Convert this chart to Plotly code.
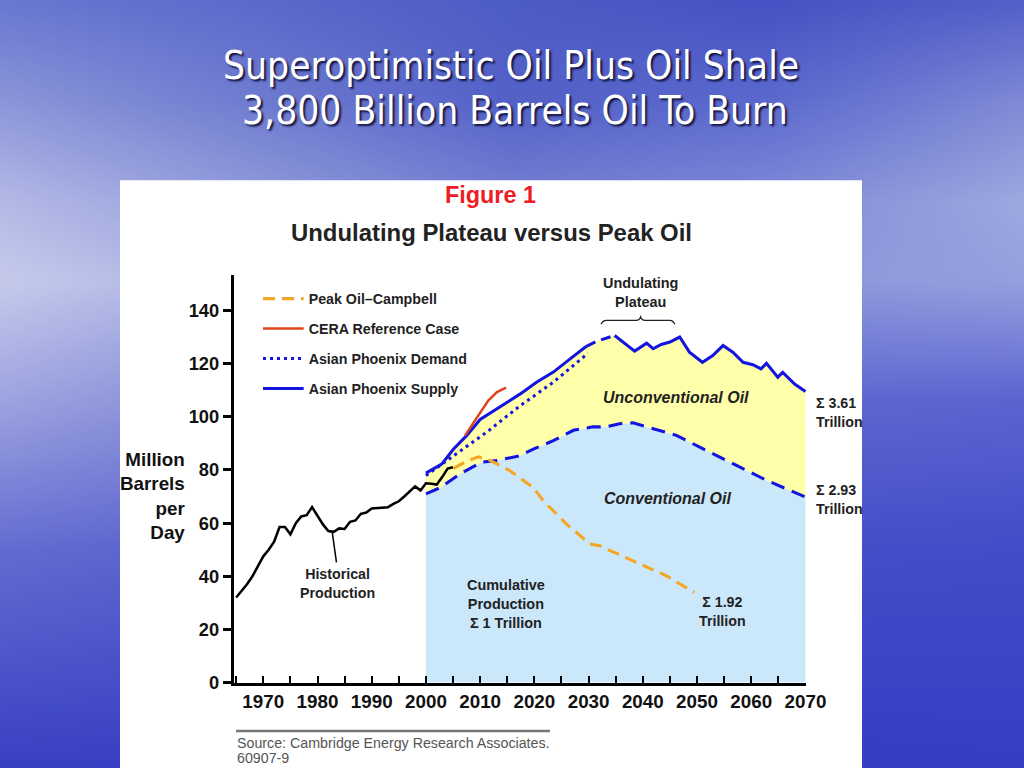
import base64
import struct
import zlib

import numpy as np
import plotly.graph_objects as go

# ---------------- data ----------------
hist_years = list(range(1965, 2006))
hist_vals = [32.0, 34.5, 37.0, 40.0, 43.5, 47.5, 50.0, 53.0, 58.5, 58.5,
             55.8, 60.0, 62.5, 63.0, 66.0, 62.8, 59.5, 57.0, 56.7, 58.0,
             57.8, 60.5, 61.0, 63.5, 64.0, 65.5, 65.6, 65.8, 66.0, 67.2,
             68.2, 70.0, 72.0, 73.8, 72.3, 75.0, 74.8, 74.5, 77.3, 80.5, 81.0]

supply_years = [2000, 2002.9, 2005.1, 2007.5, 2010, 2012.1, 2014.9, 2017.4,
                2020.4, 2023.5, 2026.6, 2029.6, 2031.5, 2034.8, 2036.7, 2038.5,
                2040.7, 2041.9, 2043.4, 2045, 2046.8, 2048.6, 2051, 2052.9,
                2054.8, 2056.6, 2058.5, 2060.3, 2061.8, 2062.8, 2064.9, 2065.8,
                2068, 2070]
supply_vals = [78.8, 82.2, 87.9, 92.9, 99.0, 101.7, 105.5, 108.6,
               113.0, 116.8, 121.8, 126.5, 128.4, 130.6, 127.6, 124.7,
               127.7, 125.6, 127.2, 128.1, 130.0, 124.3, 120.5, 123.0,
               126.8, 124.3, 120.5, 119.6, 118.0, 120.1, 114.9, 116.7,
               112.3, 109.5]

demand_years = [2000, 2005.1, 2011.2, 2017.4, 2023.5, 2029.9]
demand_vals = [77.9, 85.4, 94.2, 104.2, 113.0, 123.9]

conv_years = [2000, 2002.7, 2006.3, 2010.2, 2013.3, 2017.4, 2020, 2023.5,
              2027.2, 2030.8, 2033.3, 2035.7, 2038.2, 2041.9, 2046.2, 2050.5,
              2056.6, 2062.8, 2070]
conv_vals = [71.0, 73.4, 78.5, 82.9, 83.6, 85.4, 88.0, 91.0,
             94.9, 96.2, 96.2, 97.4, 97.7, 95.5, 93.0, 88.6,
             82.4, 76.1, 69.8]

peak_years = [2005.1, 2007.5, 2009.7, 2011.8, 2015.5, 2019.8, 2021.6, 2025.9,
              2030.2, 2032, 2038.2, 2044.3, 2049.5]
peak_vals = [80.6, 83.3, 84.9, 83.6, 79.7, 73.4, 68.5, 59.7,
             52.2, 51.5, 45.8, 40.2, 33.9]

cera_years = [2007.2, 2009.4, 2011.5, 2013.1, 2014.8]
cera_vals = [92.9, 99.8, 106.1, 109.3, 111.0]

y_ticks = [0, 20, 40, 60, 80, 100, 120, 140]

# ---------------- helpers ----------------
# Positions are given in reference pixels (1024x768 slide) and converted to
# paper fractions.  The photographed page area is slightly larger than the
# window, so the figure is sized to that area and pixel sizes are scaled.
REF_W, REF_H = 1024, 768
W, H = 1044, 779
K = 0.5 * (W / REF_W + H / REF_H)


def PX(px):
    return px / REF_W


def PY(py):
    return 1 - py / REF_H


def S(v):
    return round(v * K, 2)


def background_uri():
    rows_y = [0, 100, 200, 280, 400, 550, 768]
    cols_x = [0, 256, 512, 768, 1024]
    cols = np.array([
        [(105, 120, 208), (92, 106, 204), (78, 92, 198), (72, 82, 196), (84, 96, 202)],
        [(140, 150, 218), (112, 124, 208), (84, 98, 200), (92, 106, 206), (128, 138, 214)],
        [(180, 186, 230), (146, 156, 220), (118, 128, 210), (128, 138, 216), (158, 168, 224)],
        [(198, 203, 236), (170, 178, 226), (140, 150, 218), (140, 150, 220), (150, 160, 222)],
        [(158, 164, 224), (130, 138, 214), (105, 114, 208), (95, 104, 208), (92, 100, 210)],
        [(100, 108, 210), (88, 96, 206), (76, 84, 202), (70, 78, 200), (68, 76, 200)],
        [(58, 64, 194), (56, 62, 194), (54, 60, 194), (54, 60, 196), (56, 62, 196)],
    ], dtype=float)
    w, h = 256, 192
    xs = np.linspace(0, 1024, w)
    ys = np.linspace(0, 768, h)
    img = np.zeros((h, w, 3))
    for c in range(3):
        rowv = np.array([np.interp(xs, cols_x, cols[r, :, c]) for r in range(len(rows_y))])
        for j in range(w):
            img[:, j, c] = np.interp(ys, rows_y, rowv[:, j])
    arr = np.clip(img, 0, 255).astype(np.uint8)
    raw = b"".join(b"\x00" + arr[i].tobytes() for i in range(h))

    def chunk(t, d):
        return (struct.pack(">I", len(d)) + t + d +
                struct.pack(">I", zlib.crc32(t + d) & 0xFFFFFFFF))

    png = (b"\x89PNG\r\n\x1a\n" +
           chunk(b"IHDR", struct.pack(">IIBBBBB", w, h, 8, 2, 0, 0, 0)) +
           chunk(b"IDAT", zlib.compress(raw, 9)) + chunk(b"IEND", b""))
    return "data:image/png;base64," + base64.b64encode(png).decode()


BLUE = "#1414E0"
ORANGE = "#F5A623"
RED = "#E0461E"
FONT = "Liberation Sans, Arial, sans-serif"
TITLE_FONT = "DejaVu Sans Condensed, DejaVu Sans, sans-serif"

fig = go.Figure()

# fills
fig.add_trace(go.Scatter(x=conv_years, y=conv_vals, mode="lines", fill="tozeroy",
                         fillcolor="#CBE7FA", line=dict(width=0), showlegend=False,
                         hoverinfo="skip"))
fig.add_trace(go.Scatter(x=supply_years, y=supply_vals, mode="lines", fill="tonexty",
                         fillcolor="#FFFFAA", line=dict(width=0), showlegend=False,
                         hoverinfo="skip"))

# conventional (dashed blue)
fig.add_trace(go.Scatter(x=conv_years, y=conv_vals, mode="lines",
                         line=dict(color=BLUE, width=S(3), dash="14px,8px"),
                         showlegend=False))
# demand (dotted)
fig.add_trace(go.Scatter(x=demand_years, y=demand_vals, mode="lines",
                         name="Asian Phoenix Demand", legendgroup="d", legendrank=3,
                         line=dict(color=BLUE, width=S(3), dash="3px,4px")))
# supply (solid with a short dashed stretch)
fig.add_trace(go.Scatter(x=supply_years[:12], y=supply_vals[:12], mode="lines",
                         name="Asian Phoenix Supply", legendgroup="s", legendrank=4,
                         line=dict(color=BLUE, width=S(3))))
fig.add_trace(go.Scatter(x=supply_years[11:14], y=supply_vals[11:14], mode="lines",
                         showlegend=False, legendgroup="s",
                         line=dict(color=BLUE, width=S(3), dash="10px,6px")))
fig.add_trace(go.Scatter(x=supply_years[13:], y=supply_vals[13:], mode="lines",
                         showlegend=False, legendgroup="s",
                         line=dict(color=BLUE, width=S(3))))
# peak oil
fig.add_trace(go.Scatter(x=peak_years, y=peak_vals, mode="lines",
                         name="Peak Oil\u2013Campbell", legendgroup="p", legendrank=1,
                         line=dict(color=ORANGE, width=S(3), dash="12px,7px")))
# CERA
fig.add_trace(go.Scatter(x=cera_years, y=cera_vals, mode="lines",
                         name="CERA Reference Case", legendgroup="c", legendrank=2,
                         line=dict(color=RED, width=S(2.5))))
# historical
fig.add_trace(go.Scatter(x=hist_years, y=hist_vals, mode="lines", showlegend=False,
                         line=dict(color="black", width=S(2.5))))

# ---------------- layout ----------------
shapes = [
    dict(type="rect", xref="paper", yref="paper", x0=PX(120), x1=PX(862),
         y0=0, y1=PY(180), fillcolor="white", line=dict(width=0), layer="below"),
    dict(type="line", xref="paper", yref="paper", x0=PX(236), x1=PX(550),
         y0=PY(730), y1=PY(730), line=dict(color="#777777", width=S(2.5))),
    # leader line for "Historical Production"
    dict(type="line", xref="x", yref="y", x0=1983.5, y0=45.2, x1=1982.7, y1=56.9,
         line=dict(color="black", width=1.5)),
    # bracket for "Undulating Plateau"
    dict(type="path", xref="x", yref="y",
         path="M 2032.3,134.8 Q 2032.6,136.3 2033.3,136.3 L 2038.8,136.3 "
              "Q 2039.4,136.3 2039.6,137.6 Q 2039.8,136.3 2040.4,136.3 "
              "L 2045.0,136.3 Q 2045.6,136.3 2045.9,134.8",
         line=dict(color="#222222", width=1.3)),
]

annotations = []


def ann(text, x, y, size, xref="x", yref="y", color="#222222", xanchor="center",
        align="center", weight="bold", style="normal", family=FONT, shadow="none"):
    annotations.append(dict(text=text, x=x, y=y, xref=xref, yref=yref,
                            showarrow=False, xanchor=xanchor, yanchor="middle",
                            align=align,
                            font=dict(size=S(size), color=color, family=family,
                                      weight=weight, style=style, shadow=shadow)))


# slide title (white with drop shadow)
ann("Superoptimistic Oil Plus Oil Shale", PX(511), PY(65), 38, "paper", "paper",
    color="white", weight="normal", family=TITLE_FONT,
    shadow="2px 2px 2px rgba(10,10,50,0.9)")
ann("3,800 Billion Barrels Oil To Burn", PX(515), PY(110), 38, "paper", "paper",
    color="white", weight="normal", family=TITLE_FONT,
    shadow="2px 2px 2px rgba(10,10,50,0.9)")

ann("Figure 1", PX(490), PY(195), 23, "paper", "paper", color="#EE1C25")
ann("Undulating Plateau versus Peak Oil", PX(491), PY(232), 23.5, "paper", "paper",
    color="#222222")
ann("Million<br>Barrels<br>per<br>Day", PX(187), PY(495), 18.5, "paper", "paper",
    xanchor="right", align="right", color="#111111")

ann("Undulating<br>Plateau", 2039.6, 146.8, 14.2)
ann("Unconventional Oil", 2046.2, 107.4, 15.7, style="italic")
ann("Conventional Oil", 2044.6, 69.1, 15.7, style="italic")
ann("\u03a3 3.61<br>Trillion", PX(814), PY(411.7), 14, "paper", "paper",
    xanchor="left", align="left")
ann("\u03a3 2.93<br>Trillion", PX(814), PY(498.7), 14, "paper", "paper",
    xanchor="left", align="left")
ann("\u03a3 1.92<br>Trillion", 2054.7, 26.9, 14)
ann("Cumulative<br>Production<br>\u03a3 1 Trillion", 2014.8, 29.4, 14.2)
ann("Historical<br>Production", 1983.7, 37.2, 14)

ann("Source: Cambridge Energy Research Associates.", PX(235), PY(742), 14,
    "paper", "paper", color="#555555", xanchor="left", align="left", weight="normal")
ann("60907-9", PX(235), PY(757), 14, "paper", "paper", color="#555555",
    xanchor="left", align="left", weight="normal")

fig.update_layout(
    width=W, height=H, autosize=False,
    margin=dict(l=0, r=0, t=0, b=0),
    paper_bgcolor="#4a58c4", plot_bgcolor="rgba(0,0,0,0)",
    font=dict(family=FONT),
    images=[dict(source=background_uri(), xref="paper", yref="paper", x=0, y=1,
                 sizex=1, sizey=1, sizing="stretch", layer="below",
                 xanchor="left", yanchor="top")],
    shapes=shapes,
    annotations=annotations,
    showlegend=True,
    legend=dict(x=PX(258), y=PY(282.5), xanchor="left", yanchor="top",
                bgcolor="rgba(0,0,0,0)", traceorder="grouped",
                tracegroupgap=S(8.3), itemwidth=S(40),
                font=dict(size=S(14), color="#222222", family=FONT, weight="bold")),
    xaxis=dict(domain=[PX(234), PX(806)], range=[1964.6, 2070.1],
               showgrid=False, zeroline=False, showline=True, linecolor="black",
               linewidth=S(3), ticks="inside", ticklen=S(6), tickwidth=S(2),
               tickcolor="black", tick0=1970, dtick=10,
               tickfont=dict(size=S(18.5), color="#111111", weight="bold"),
               minor=dict(tick0=1965, dtick=5, ticks="inside", ticklen=S(6),
                          tickwidth=S(2), tickcolor="black"),
               fixedrange=True),
    yaxis=dict(domain=[PY(681.7), PY(275)], range=[0, 153.2],
               showgrid=False, zeroline=False, showline=True, linecolor="black",
               linewidth=S(3), ticks="outside", ticklen=S(8), tickwidth=S(3),
               tickcolor="black", tickvals=y_ticks,
               tickfont=dict(size=S(18), color="#111111", weight="bold"),
               fixedrange=True),
)

POST = (
    "var de=document.documentElement, b=document.body;"
    "de.style.margin='0'; b.style.margin='0';"
    "de.style.overflow='hidden'; b.style.overflow='hidden';"
    "de.style.background='#4a58c4'; b.style.background='#4a58c4';"
)

fig.write_html("out.html", config={"displayModeBar": False}, post_script=POST)
